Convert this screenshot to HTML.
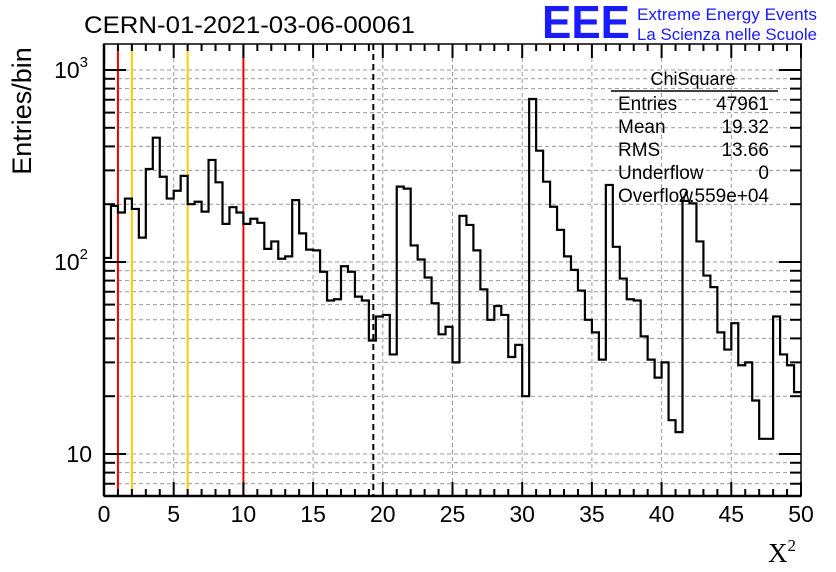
<!DOCTYPE html>
<html><head><meta charset="utf-8"><style>
html,body{margin:0;padding:0;background:#fff;}
svg{display:block;font-family:"Liberation Sans",sans-serif;}
</style></head><body>
<svg id="c" width="836" height="572" viewBox="0 0 836 572">
<rect x="0" y="0" width="836" height="572" fill="#fff"/>
<text x="84" y="33" font-size="24" textLength="331" lengthAdjust="spacingAndGlyphs">CERN-01-2021-03-06-00061</text>
<text x="542" y="38" font-size="46" font-weight="bold" fill="#1a1aff" textLength="88" lengthAdjust="spacingAndGlyphs">EEE</text>
<text x="637" y="20" font-size="17" fill="#1a1aff" textLength="180" lengthAdjust="spacingAndGlyphs">Extreme Energy Events</text>
<text x="637" y="40" font-size="17" fill="#1a1aff" textLength="180" lengthAdjust="spacingAndGlyphs">La Scienza nelle Scuole</text>
<text transform="translate(31,111) rotate(-90)" text-anchor="middle" font-size="27">Entries/bin</text>
<text x="768" y="562" font-size="27" font-family="Liberation Serif,serif">X<tspan font-size="17" dy="-11">2</tspan></text>
<g id="grid"></g>
<g id="marks"></g>
<g id="hist"></g>
<g id="axes"></g>
<g font-size="19">
<text x="693" y="85" text-anchor="middle" font-size="18">ChiSquare</text>
<line x1="611" y1="91" x2="778" y2="91" stroke="#000" stroke-width="1.5"/>
<text x="618" y="110">Entries</text><text x="769" y="110" text-anchor="end">47961</text>
<text x="618" y="133">Mean</text><text x="769" y="133" text-anchor="end">19.32</text>
<text x="618" y="156">RMS</text><text x="769" y="156" text-anchor="end">13.66</text>
<text x="618" y="179">Underflow</text><text x="769" y="179" text-anchor="end">0</text>
<text x="618" y="202">Overflow</text><text x="769" y="202" text-anchor="end">2.559e+04</text>
</g>
</svg>
<script>
const binCounts = [105,196,181,214,189,134,305,444,278,214,235,281,200,206,183,340,260,158,193,181,
158,168,160,117,128,104,107,210,141,116,115,89,63,64,95,89,66,63,39,52,
53,33,247,241,122,103,83,61,42,46,30,174,156,115,72,50,59,53,32,37,
20,706,380,262,194,147,107,91,71,50,43,31,252,120,82,64,63,41,31,25,
30,15,13,208,202,128,85,74,43,35,48,29,30,19,12,12,52,33,29,21];
const xTicks = [0,5,10,15,20,25,30,35,40,45,50];
const yDecades = [10,100,1000];
const markerRed = [1,10];
const markerOrange = [2,6];
const meanValue = 19.32;
const xMin=0,xMax=50,binW=0.5;
const L=104,R=801,T=44,B=496;
const logMin=Math.log10(10)-(496-454)/192, logMax=3+(70-44)/192;
function X(v){return L+(v-xMin)/(xMax-xMin)*(R-L);}
function Y(v){return B-(Math.log10(v)-logMin)/(logMax-logMin)*(B-T);}
const NS="http://www.w3.org/2000/svg";
function mk(tag,attrs,parent){const e=document.createElementNS(NS,tag);for(const k in attrs)e.setAttribute(k,attrs[k]);parent.appendChild(e);return e;}
const grid=document.getElementById('grid'),axes=document.getElementById('axes'),hist=document.getElementById('hist'),marks=document.getElementById('marks');
xTicks.forEach(t=>{if(t>xMin&&t<xMax){const l=mk('line',{x1:X(t),x2:X(t),y1:T,y2:B,stroke:'#999','stroke-dasharray':'4,3','stroke-width':1},grid);

}});
for(let d=1;d<=1000;d*=10){for(let m=1;m<10;m++){const v=d*m;const y=Y(v);if(y<T||y>B)continue;
const l=mk('line',{x1:L,x2:R,y1:y,y2:y,stroke:'#999','stroke-dasharray':'4,3','stroke-width':1},grid);


const tl=m===1?22:11;
const a=mk('line',{x1:L,x2:L+tl,y1:y,y2:y,stroke:'#000','stroke-width':2},axes);


const b=mk('line',{x1:R,x2:R-tl,y1:y,y2:y,stroke:'#000','stroke-width':2},axes);

}}
markerRed.forEach(v=>{const l=mk('line',{x1:X(v),x2:X(v),y1:T,y2:B,stroke:'#ee0000','stroke-width':2},marks);

});
markerOrange.forEach(v=>{const l=mk('line',{x1:X(v),x2:X(v),y1:T,y2:B,stroke:'#ffcc00','stroke-width':2},marks);

});
const ml=mk('line',{x1:X(meanValue),x2:X(meanValue),y1:T,y2:B,stroke:'#000','stroke-width':2,'stroke-dasharray':'6,4'},marks);


let d='';
binCounts.forEach((c,i)=>{const x0=X(xMin+i*binW),x1=X(xMin+(i+1)*binW),y=Math.max(T,Math.min(B,Y(c)));
d+=(i===0?'M'+x0+','+y:'L'+x0+','+y)+'L'+x1+','+y;});
const p=mk('path',{d:d,fill:'none',stroke:'#000','stroke-width':2.2},hist);


const fr=mk('rect',{x:L,y:T,width:R-L,height:B-T,fill:'none',stroke:'#000','stroke-width':1.5},axes);


const la=mk('line',{x1:L,x2:L,y1:T,y2:B,stroke:'#000','stroke-width':2.5},axes);


const ba=mk('line',{x1:L,x2:R,y1:B,y2:B,stroke:'#000','stroke-width':2.5},axes);


for(let v=xMin;v<=xMax;v+=1){const major=v%5===0;const tl=major?14:7;
const a=mk('line',{x1:X(v),x2:X(v),y1:B,y2:B-tl,stroke:'#000','stroke-width':2},axes);


const b=mk('line',{x1:X(v),x2:X(v),y1:T,y2:T+tl,stroke:'#000','stroke-width':2},axes);

}
xTicks.forEach(t=>{const tx=mk('text',{x:X(t),y:522,'text-anchor':'middle','font-size':23},axes);tx.textContent=t;

});
yDecades.forEach(v=>{const y=Y(v);const tx=mk('text',{x:v===10?92:88,y:y+8,'text-anchor':'end','font-size':23},axes);
if(v===10){tx.textContent='10';}else{tx.textContent='10';const s=mk('tspan',{'font-size':15,dy:-11},tx);s.textContent=String(Math.round(Math.log10(v)));}

});
</script>
</body></html>
